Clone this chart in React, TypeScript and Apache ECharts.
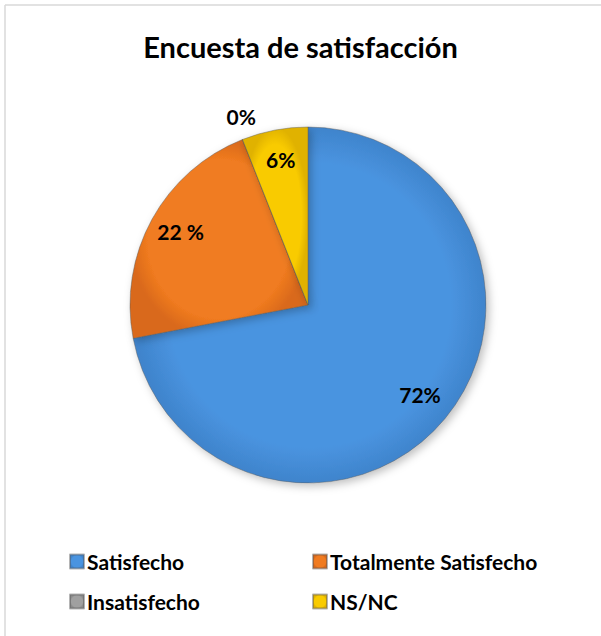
import React, { useEffect, useRef } from "react";
import * as echarts from "echarts";

const categories = ["Satisfecho", "Totalmente Satisfecho", "Insatisfecho", "NS/NC"];
const values = [72, 22, 0, 6];
const labelTexts = ["72%", "22 %", "0%", "6%"];
const titleText = "Encuesta de satisfacción";

const fills = [
  ["#62adf3", "#4a94e0", "#3f84cc"],
  ["#f98a2e", "#f07b20", "#d9691a"],
  ["#bcbcbc", "#a0a0a0", "#8a8a8a"],
  ["#ffdb1f", "#f9cb00", "#e0b200"],
];

const FONT = "Lato, 'Open Sans', sans-serif";

export default function App() {
  const ref = useRef<HTMLDivElement>(null);
  useEffect(() => {
    document.body.style.margin = "0";
    const chart = echarts.init(ref.current!, null, { renderer: "svg" });
    const cx = 308;
    const cy = 305;
    const R = 178;

    const grad = (i: number) =>
      new echarts.graphic.RadialGradient(0.5, 0.5, 0.5, [
        { offset: 0, color: fills[i][1] },
        { offset: 0.8, color: fills[i][1] },
        { offset: 1, color: fills[i][2] },
      ]);

    const mainData = categories.map((name, i) => ({
      name,
      value: values[i],
      itemStyle: {
        color: grad(i),
        borderColor: "rgba(90,90,90,0.45)",
        borderWidth: 1,
      },
    }));

    const labelData = categories.map((name, i) => ({
      name,
      value: values[i],
      label: { show: values[i] > 0 },
    }));

    const zeroLabelData = categories.map((name, i) => ({
      name,
      value: values[i],
      label: { show: values[i] === 0 },
    }));

    const labelStyle = {
      position: "inside" as const,
      formatter: (p: any) => labelTexts[p.dataIndex],
      fontFamily: FONT,
      fontWeight: "bold" as const,
      fontSize: 21,
      color: "#000",
    };

    const legendCommon = {
      orient: "vertical" as const,
      icon: "rect",
      itemWidth: 14,
      itemHeight: 14,
      itemGap: 19,
      selectedMode: false,
      textStyle: {
        fontFamily: FONT,
        fontWeight: "bold" as const,
        fontSize: 21,
        lineHeight: 21,
        color: "#000",
        padding: [0, 0, 0, -2],
      },
    };

    chart.setOption({
      animation: false,
      backgroundColor: "#fff",
      title: {
        text: titleText,
        left: "center",
        top: 27,
        textStyle: {
          fontFamily: FONT,
          fontWeight: "bold",
          fontSize: 29,
          color: "#000",
        },
      },
      legend: [
        {
          ...legendCommon,
          left: 64,
          top: 546,
          data: [categories[0], categories[2]],
        },
        {
          ...legendCommon,
          left: 307,
          top: 546,
          data: [categories[1], categories[3]],
        },
      ],
      graphic: [
        {
          type: "line",
          shape: { x1: 5, y1: 5, x2: 601, y2: 5 },
          style: { stroke: "#d9d9d9", lineWidth: 1.5 },
        },
        {
          type: "line",
          shape: { x1: 5, y1: 5, x2: 5, y2: 636 },
          style: { stroke: "#d9d9d9", lineWidth: 1.5 },
        },
      ],
      series: [
        {
          type: "pie",
          center: [cx, cy],
          radius: [0, R],
          startAngle: 90,
          clockwise: true,
          data: mainData,
          label: { show: false },
          labelLine: { show: false },
          emphasis: { disabled: true },
          itemStyle: {
            shadowBlur: 8,
            shadowColor: "rgba(0,0,0,0.25)",
            shadowOffsetX: 3,
            shadowOffsetY: 3,
          },
        },
        {
          type: "pie",
          center: [cx, cy],
          radius: [R * 0.6, R],
          startAngle: 90,
          clockwise: true,
          silent: true,
          data: labelData,
          itemStyle: { color: "transparent", borderWidth: 0 },
          label: labelStyle,
          labelLine: { show: false },
          labelLayout: { dy: -3 },
          emphasis: { disabled: true },
        },
        {
          type: "pie",
          center: [cx, cy],
          radius: [R, R * 1.25],
          startAngle: 90,
          clockwise: true,
          silent: true,
          data: zeroLabelData,
          itemStyle: { color: "transparent", borderWidth: 0 },
          label: labelStyle,
          labelLine: { show: false },
          labelLayout: { dx: 8, dy: 0 },
          emphasis: { disabled: true },
        },
      ],
    });
    return () => chart.dispose();
  }, []);
  return <div ref={ref} style={{ width: 601, height: 636 }} />;
}
